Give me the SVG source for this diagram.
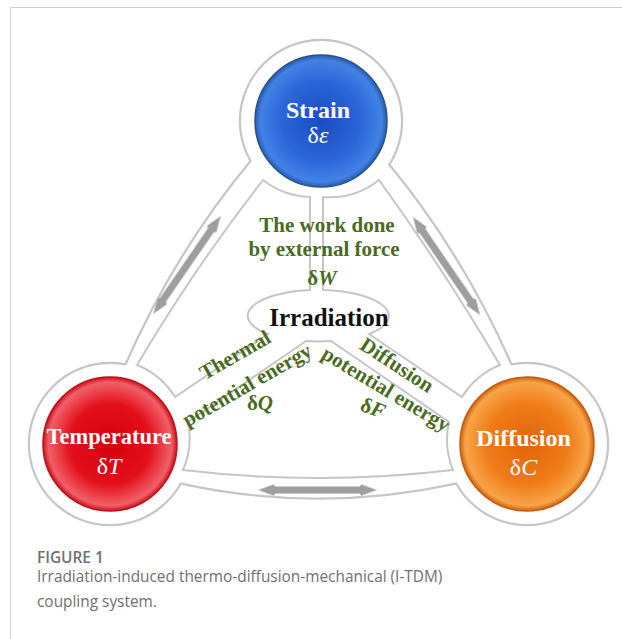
<svg xmlns="http://www.w3.org/2000/svg" width="622" height="639" viewBox="0 0 622 639">
<style>
.edge{fill:none;stroke:#c6c6c6;stroke-width:4.4}
.fillw{fill:#fff;stroke:none}
.petal{fill:#fff;stroke:#c6c6c6;stroke-width:2}
.arrow{fill:#9e9e9e;stroke:#c8c8c8;stroke-width:0.8}
.nm{font-family:"Liberation Serif","Times New Roman",serif;font-weight:bold;fill:#fff;text-anchor:middle}
.sym{font-family:"Liberation Serif","Times New Roman",serif;fill:#fff;text-anchor:middle;font-size:24px}
.gr{font-family:"Liberation Serif","Times New Roman",serif;font-weight:bold;fill:#4a6b1e;font-size:21px;text-anchor:middle}
.cap{font-family:"Open Sans","Noto Sans",sans-serif;fill:#707070;font-size:15.4px}
</style>
<defs>
<radialGradient id="gBlue" cx="50%" cy="50%" r="50%">
<stop offset="0" stop-color="#1a4cc2"/>
<stop offset="0.6" stop-color="#2b66d8"/>
<stop offset="0.92" stop-color="#4282e6"/>
<stop offset="1" stop-color="#2a5cae"/>
</radialGradient>
<radialGradient id="gRed" cx="50%" cy="50%" r="50%">
<stop offset="0" stop-color="#d6000c"/>
<stop offset="0.6" stop-color="#e2101c"/>
<stop offset="0.92" stop-color="#f06068"/>
<stop offset="1" stop-color="#cc1420"/>
</radialGradient>
<radialGradient id="gOrange" cx="50%" cy="50%" r="50%">
<stop offset="0" stop-color="#e2640a"/>
<stop offset="0.6" stop-color="#ee7c18"/>
<stop offset="0.92" stop-color="#f7a448"/>
<stop offset="1" stop-color="#d0640e"/>
</radialGradient>
<path id="dbl" d="M -59,0 L -44,-5.5 L -42,-3.5 L 42,-3.5 L 44,-5.5 L 59,0 L 44,5.5 L 42,3.5 L -42,3.5 L -44,5.5 Z"/>
</defs>

<g id="frame">
<line x1="10" y1="7.5" x2="622" y2="7.5" stroke="#d0d0d0" stroke-width="1"/>
<line x1="10.5" y1="7.5" x2="10.5" y2="639" stroke="#d0d0d0" stroke-width="1"/>
</g>

<g id="base">
<path class="edge" d="M 252,161 Q 175.5,253 126,366 L 179,482 Q 318,513 458,482 L 511,366 Q 461.5,253 385,161 Z"/>
<circle class="edge" cx="321" cy="121" r="80"/>
<circle class="edge" cx="110" cy="444" r="80"/>
<circle class="edge" cx="527" cy="444" r="80"/>
<path class="fillw" d="M 252,161 Q 175.5,253 126,366 L 179,482 Q 318,513 458,482 L 511,366 Q 461.5,253 385,161 Z"/>
<circle class="fillw" cx="321" cy="121" r="80"/>
<circle class="fillw" cx="110" cy="444" r="80"/>
<circle class="fillw" cx="527" cy="444" r="80"/>
</g>

<g id="petals">
<path class="petal" d="M 310,197 L 310,290 A 71 26 0 0 0 268,334 L 175,397 A 80 80 0 0 0 137,365 Q 195,267 263,180 A 80 80 0 0 0 310,197 Z"/>
<path class="petal" d="M 323,197 L 323,290 A 71 26 0 0 1 369,334 L 462,397 A 80 80 0 0 1 500,365 Q 442,267 379,180 A 80 80 0 0 1 323,197 Z"/>
<path class="petal" d="M 306,341 L 188,422 A 80 80 0 0 1 183,470 Q 318,486 453,470 A 80 80 0 0 1 449,422 L 331,341 A 71 26 0 0 1 306,341 Z"/>
</g>

<g id="connectors">
<use href="#dbl" class="arrow" transform="translate(187,265) rotate(-55.5)"/>
<use href="#dbl" class="arrow" transform="translate(446.5,266) rotate(55.6)"/>
<use href="#dbl" class="arrow" transform="translate(317.5,490)"/>
</g>

<g id="node-strain">
<circle cx="321" cy="121" r="66" fill="url(#gBlue)" stroke="#27508f" stroke-width="1.5"/>
<text class="nm" x="318" y="118" font-size="24">Strain</text>
<text class="sym" x="318" y="143">δ<tspan font-style="italic">ε</tspan></text>
</g>

<g id="node-temperature">
<circle cx="110" cy="444" r="67" fill="url(#gRed)" stroke="#c0101a" stroke-width="1.5"/>
<text class="nm" x="109" y="444" font-size="22.5">Temperature</text>
<text class="sym" x="109" y="474">δ<tspan font-style="italic">T</tspan></text>
</g>

<g id="node-diffusion">
<circle cx="527" cy="444" r="67" fill="url(#gOrange)" stroke="#c85a10" stroke-width="1.5"/>
<text class="nm" x="523.5" y="446" font-size="24">Diffusion</text>
<text class="sym" x="523.5" y="475">δ<tspan font-style="italic">C</tspan></text>
</g>

<g id="node-irradiation">
<text x="329" y="326" font-family="Liberation Serif,Times New Roman,serif" font-weight="bold" font-size="25" fill="#111" text-anchor="middle">Irradiation</text>
</g>

<g id="labels">
<text class="gr" x="327" y="232" font-size="22">The work done</text>
<text class="gr" x="324" y="256" font-size="22">by external force</text>
<text class="gr" x="322" y="285">δ<tspan font-style="italic">W</tspan></text>
<text class="gr" transform="translate(235,355) rotate(-30)" x="0" y="7">Thermal</text>
<text class="gr" transform="translate(247,385) rotate(-30)" x="0" y="7">potential energy</text>
<text class="gr" x="260" y="410">δ<tspan font-style="italic">Q</tspan></text>
<text class="gr" transform="translate(397,365) rotate(33)" x="0" y="7">Diffusion</text>
<text class="gr" transform="translate(386,389) rotate(31)" x="0" y="7">potential energy</text>
<text class="gr" transform="translate(373,408) rotate(20)" x="0" y="7">δ<tspan font-style="italic">F</tspan></text>
</g>

<g id="caption">
<text class="cap" x="37" y="563" font-weight="600" fill="#5a5a5a" font-size="16">FIGURE 1</text>
<text class="cap" x="37" y="582">Irradiation-induced thermo-diffusion-mechanical (I-TDM)</text>
<text class="cap" x="37" y="607">coupling system.</text>
</g>
</svg>
